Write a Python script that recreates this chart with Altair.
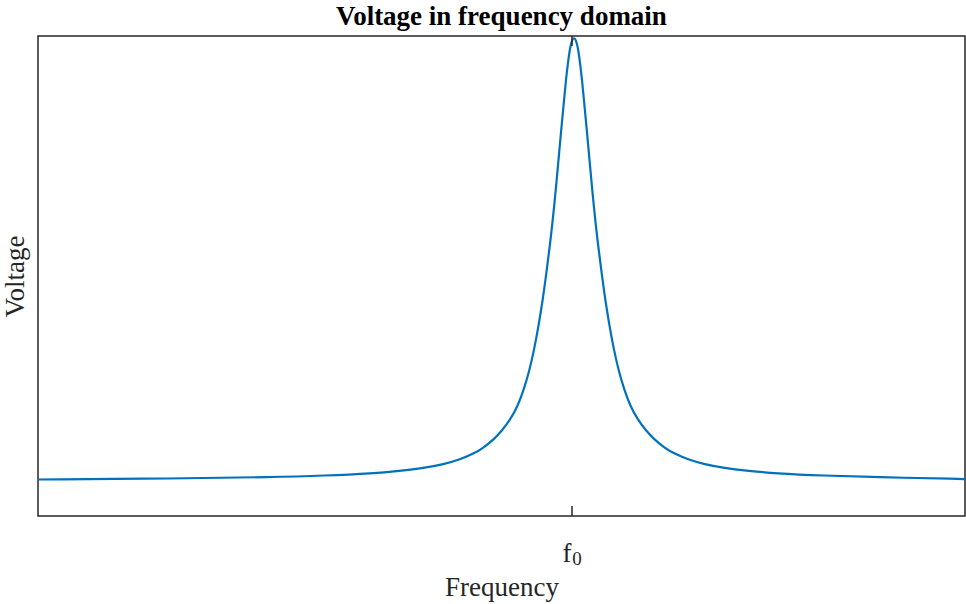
import altair as alt
import pandas as pd

# Frequency (arbitrary units, f0 at 534) and voltage (normalised)
freq = [0, 136, 236, 286, 336, 361, 386, 406, 421, 436, 446, 456, 464, 472, 480, 486,
        491, 496, 500, 504, 508, 512, 516, 520, 523, 526, 528, 530, 532, 534, 536,
        538, 540, 542, 544, 546, 549, 552, 556, 560, 564, 568, 572, 576, 581, 586,
        592, 600, 608, 616, 626, 636, 651, 666, 686, 711, 736, 786, 836, 927]
volt = [0.076, 0.078, 0.081, 0.084, 0.089, 0.094, 0.100, 0.108, 0.117, 0.130, 0.143,
        0.160, 0.178, 0.200, 0.230, 0.265, 0.300, 0.345, 0.390, 0.440, 0.500, 0.565,
        0.640, 0.730, 0.800, 0.865, 0.910, 0.945, 0.975, 0.992, 0.997,
        0.992, 0.975, 0.945, 0.910, 0.865, 0.800, 0.730, 0.640, 0.565, 0.500, 0.440,
        0.390, 0.345, 0.300, 0.265, 0.230, 0.200, 0.178, 0.160, 0.143, 0.130, 0.117,
        0.108, 0.100, 0.094, 0.089, 0.084, 0.081, 0.077]
f0 = 534
x_domain = [0, 927]
y_domain = [0, 1]

df = pd.DataFrame({"freq": freq, "volt": volt})
tick_df = pd.DataFrame({"freq": [f0]})

FONT = "Liberation Serif"
AX = "#262626"

xs = alt.Scale(domain=x_domain, nice=False, zero=False)
ys = alt.Scale(domain=y_domain, nice=False, zero=False)

line = alt.Chart(df).mark_line(color="#0072BD", strokeWidth=2.2, interpolate="basis").encode(
    x=alt.X("freq:Q", scale=xs,
            axis=alt.Axis(title="Frequency", domain=False, ticks=False, labels=False, grid=False,
                          titleFont=FONT, titleFontSize=27, titleFontWeight="normal",
                          titleColor=AX, titleBaseline="alphabetic", titleX=463.5, titleY=79)),
    y=alt.Y("volt:Q", scale=ys,
            axis=alt.Axis(title="Voltage", domain=False, ticks=False, labels=False, grid=False,
                          titleFont=FONT, titleFontSize=27, titleFontWeight="normal",
                          titleColor=AX, titleBaseline="alphabetic", titleX=-15, titleY=240)),
)

tick_bottom = alt.Chart(tick_df).mark_rule(color=AX, strokeWidth=1.5).encode(
    x=alt.X("freq:Q", scale=xs), y=alt.value(470), y2=alt.value(480))
tick_top = alt.Chart(tick_df).mark_rule(color=AX, strokeWidth=1.5).encode(
    x=alt.X("freq:Q", scale=xs), y=alt.value(0), y2=alt.value(10))

lab_f = alt.Chart(tick_df).mark_text(text="f", font=FONT, fontSize=27, color=AX,
                                     align="center", baseline="alphabetic", dx=-5).encode(
    x=alt.X("freq:Q", scale=xs), y=alt.value(526))
lab_0 = alt.Chart(tick_df).mark_text(text="0", font=FONT, fontSize=19, color=AX,
                                     align="center", baseline="alphabetic", dx=5).encode(
    x=alt.X("freq:Q", scale=xs), y=alt.value(529))

chart = alt.layer(line, tick_bottom, tick_top, lab_f, lab_0).properties(
    width=927, height=480,
    background="white",
    title=alt.TitleParams("Voltage in frequency domain", font=FONT, fontSize=27,
                          fontWeight="bold", color="black", anchor="middle",
                          baseline="bottom", offset=7, dy=31),
    autosize=alt.AutoSizeParams(type="none"),
    padding={"left": 38, "top": 36, "right": 1, "bottom": 88},
).configure_view(stroke=AX, strokeWidth=1.5)

chart.save("out.html", embed_options={"renderer": "svg", "actions": False})
